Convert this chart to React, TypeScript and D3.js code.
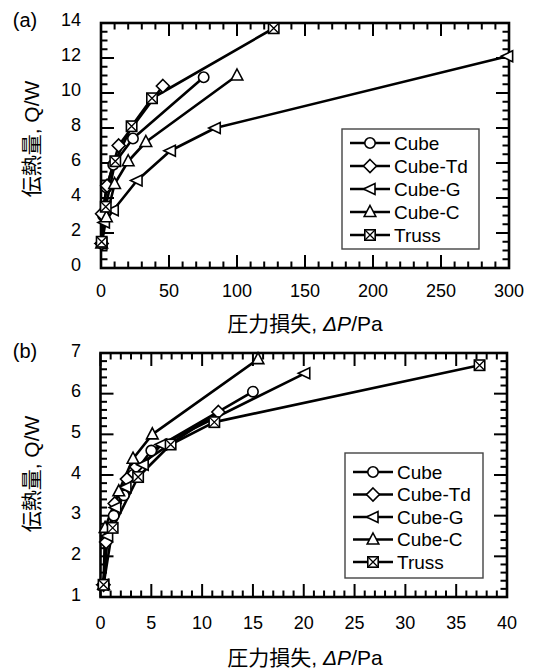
import React, { useEffect, useRef } from "react";
import * as d3 from "d3";

const seriesNames = ["Cube", "Cube-Td", "Cube-G", "Cube-C", "Truss"];
const markerTypes = ["circle", "diamond", "triLeft", "triUp", "truss"];

// panel (a): [pressure loss Pa, heat transfer W]
const cubeA = [[0.5, 1.4], [1.5, 3.0], [4, 4.6], [9, 5.9], [23.5, 7.4], [75.5, 10.9]];
const cubeTdA = [[0.5, 1.4], [0.8, 3.1], [4.5, 4.7], [13, 7.0], [45.5, 10.4]];
const cubeGA = [[0.6, 1.4], [2.5, 2.6], [9, 3.3], [26.5, 5.0], [51, 6.7], [84, 8.0], [299, 12.1]];
const cubeCA = [[0.5, 1.4], [4, 2.9], [10, 4.8], [20, 6.1], [33, 7.2], [100, 11.0]];
const trussA = [[0.5, 1.5], [3.5, 3.5], [10.5, 6.1], [22.5, 8.1], [37.5, 9.7], [127, 13.7]];

// panel (b)
const cubeB = [[0.3, 1.3], [0.6, 2.4], [1.3, 3.0], [2.3, 3.5], [3.2, 4.0], [5.0, 4.6], [15.0, 6.05]];
const cubeTdB = [[0.3, 1.3], [0.55, 2.35], [1.4, 3.3], [2.6, 3.9], [3.5, 4.2], [11.6, 5.55]];
const cubeGB = [[0.3, 1.3], [0.7, 2.5], [1.5, 3.2], [2.5, 3.7], [4.2, 4.25], [6.0, 4.75], [20.1, 6.5]];
const cubeCB = [[0.3, 1.3], [0.45, 2.7], [1.8, 3.6], [3.2, 4.4], [5.1, 5.0], [15.5, 6.85]];
const trussB = [[0.3, 1.3], [1.2, 2.7], [3.7, 3.95], [6.9, 4.75], [11.2, 5.3], [37.3, 6.7]];

const xTicksA = [0, 50, 100, 150, 200, 250, 300];
const yTicksA = [0, 2, 4, 6, 8, 10, 12, 14];
const xTicksB = [0, 5, 10, 15, 20, 25, 30, 35, 40];
const yTicksB = [1, 2, 3, 4, 5, 6, 7];

const FONT = "'Liberation Sans', Arial, 'Noto Sans CJK JP', sans-serif";

const panels = [
  {
    tag: "(a)",
    series: [cubeA, cubeTdA, cubeGA, cubeCA, trussA],
    xDomain: [0, 300], xRange: [101, 509],
    yDomain: [0, 14], yRange: [268, 23], yLabelShift: -3.5,
    xTicks: xTicksA, yTicks: yTicksA, xMinor: 10, yMinor: 0.5,
    xLabelY: 291, titleY: 324, yTitleY: 139, tagY: 20,
    legend: { x: 342, y: 129, w: 137, h: 120, row0: 143, dy: 23 },
  },
  {
    tag: "(b)",
    series: [cubeB, cubeTdB, cubeGB, cubeCB, trussB],
    xDomain: [0, 40], xRange: [100.5, 507],
    yDomain: [1, 7], yRange: [597, 353], yLabelShift: -2.5,
    xTicks: xTicksB, yTicks: yTicksB, xMinor: 1, yMinor: 0.2,
    xLabelY: 623, titleY: 658, yTitleY: 474, tagY: 351,
    legend: { x: 345, y: 453, w: 138, h: 125, row0: 472, dy: 22.5 },
  },
];

function drawMarker(g, type, x, y) {
  const m = g.append("g").attr("transform", `translate(${x},${y})`);
  const st = (s) => s.attr("fill", "#fff").attr("stroke", "#000").attr("stroke-width", 1.6);
  if (type === "circle") st(m.append("circle").attr("r", 5.2));
  if (type === "diamond") st(m.append("path").attr("d", "M0,-6.5L6.5,0L0,6.5L-6.5,0Z"));
  if (type === "triLeft") st(m.append("path").attr("d", "M-6.5,0L5,-5.5L5,5.5Z"));
  if (type === "triUp") st(m.append("path").attr("d", "M0,-6.5L5.8,4.5L-5.8,4.5Z"));
  if (type === "truss") {
    st(m.append("rect").attr("x", -5.2).attr("y", -5.2).attr("width", 10.4).attr("height", 10.4));
    m.append("path").attr("d", "M-5,-5L5,5M5,-5L-5,5").attr("stroke", "#000").attr("stroke-width", 1.3);
  }
}

const App = () => {
  const svgRef = useRef();

  useEffect(() => {
    const svg = d3.select(svgRef.current);
    svg.selectAll("*").remove();

    panels.forEach((p) => {
      const x = d3.scaleLinear().domain(p.xDomain).range(p.xRange);
      const y = d3.scaleLinear().domain(p.yDomain).range(p.yRange);
      const [x0, x1] = p.xRange;
      const [y0, y1] = p.yRange;
      const g = svg.append("g");

      // ticks on all four sides, pointing inward
      const ticks = g.append("g").attr("stroke", "#000").attr("stroke-width", 2);
      const xMinor = d3.range(p.xDomain[0], p.xDomain[1] + 1e-9, p.xMinor);
      const yMinor = d3.range(p.yDomain[0], p.yDomain[1] + 1e-9, p.yMinor);
      const isMajor = (v, arr) => arr.some((t) => Math.abs(t - v) < 1e-6);
      xMinor.forEach((v) => {
        const len = isMajor(v, p.xTicks) ? 13 : 6.5;
        ticks.append("line").attr("x1", x(v)).attr("x2", x(v)).attr("y1", y0).attr("y2", y0 - len);
        ticks.append("line").attr("x1", x(v)).attr("x2", x(v)).attr("y1", y1).attr("y2", y1 + len);
      });
      yMinor.forEach((v) => {
        const len = isMajor(v, p.yTicks) ? 13 : 6.5;
        ticks.append("line").attr("y1", y(v)).attr("y2", y(v)).attr("x1", x0).attr("x2", x0 + len);
        ticks.append("line").attr("y1", y(v)).attr("y2", y(v)).attr("x1", x1).attr("x2", x1 - len);
      });

      g.append("rect")
        .attr("x", x0).attr("y", y1)
        .attr("width", x1 - x0).attr("height", y0 - y1)
        .attr("fill", "none").attr("stroke", "#000").attr("stroke-width", 2.6);

      // tick labels
      g.selectAll(".xl").data(p.xTicks).enter().append("text")
        .attr("x", (d) => x(d)).attr("y", p.xLabelY).attr("dy", "0.35em")
        .attr("text-anchor", "middle").attr("font-size", 18).attr("font-family", FONT)
        .text((d) => d);
      g.selectAll(".yl").data(p.yTicks).enter().append("text")
        .attr("x", 81).attr("y", (d) => y(d) + p.yLabelShift).attr("dy", "0.35em")
        .attr("text-anchor", "end").attr("font-size", 18).attr("font-family", FONT)
        .text((d) => d);

      // axis titles
      const xt = g.append("text")
        .attr("x", 305).attr("y", p.titleY).attr("dy", "0.35em")
        .attr("text-anchor", "middle").attr("font-size", 21).attr("font-family", FONT);
      xt.append("tspan").text("圧力損失, ");
      xt.append("tspan").attr("font-style", "italic").text("ΔP");
      xt.append("tspan").text("/Pa");

      g.append("text")
        .attr("transform", `translate(32,${p.yTitleY}) rotate(-90)`)
        .attr("dy", "0.35em").attr("text-anchor", "middle")
        .attr("font-size", 21).attr("font-family", FONT)
        .text("伝熱量, Q/W");

      g.append("text")
        .attr("x", 25).attr("y", p.tagY).attr("dy", "0.35em")
        .attr("text-anchor", "middle").attr("font-size", 20).attr("font-family", FONT)
        .text(p.tag);

      // series
      const line = d3.line().x((d) => x(d[0])).y((d) => y(d[1]));
      p.series.forEach((s) => {
        g.append("path").attr("d", line(s))
          .attr("fill", "none").attr("stroke", "#000")
          .attr("stroke-width", 2.6).attr("stroke-linejoin", "round");
      });
      p.series.forEach((s, i) => {
        s.forEach((d) => drawMarker(g, markerTypes[i], x(d[0]), y(d[1])));
      });

      // legend
      const L = p.legend;
      g.append("rect")
        .attr("x", L.x).attr("y", L.y).attr("width", L.w).attr("height", L.h)
        .attr("fill", "#fff").attr("stroke", "#444").attr("stroke-width", 1.4);
      seriesNames.forEach((name, i) => {
        const ry = L.row0 + i * L.dy;
        g.append("line")
          .attr("x1", L.x + 8).attr("x2", L.x + 48).attr("y1", ry).attr("y2", ry)
          .attr("stroke", "#000").attr("stroke-width", 2.6);
        drawMarker(g, markerTypes[i], L.x + 28, ry);
        g.append("text")
          .attr("x", L.x + 52).attr("y", ry).attr("dy", "0.35em")
          .attr("font-size", 19).attr("font-family", FONT)
          .text(name);
      });
    });
  }, []);

  return (
    <svg
      ref={svgRef}
      width={535}
      height={668}
      style={{ position: "absolute", left: 0, top: 0, background: "#fff" }}
    ></svg>
  );
};

export default App;
